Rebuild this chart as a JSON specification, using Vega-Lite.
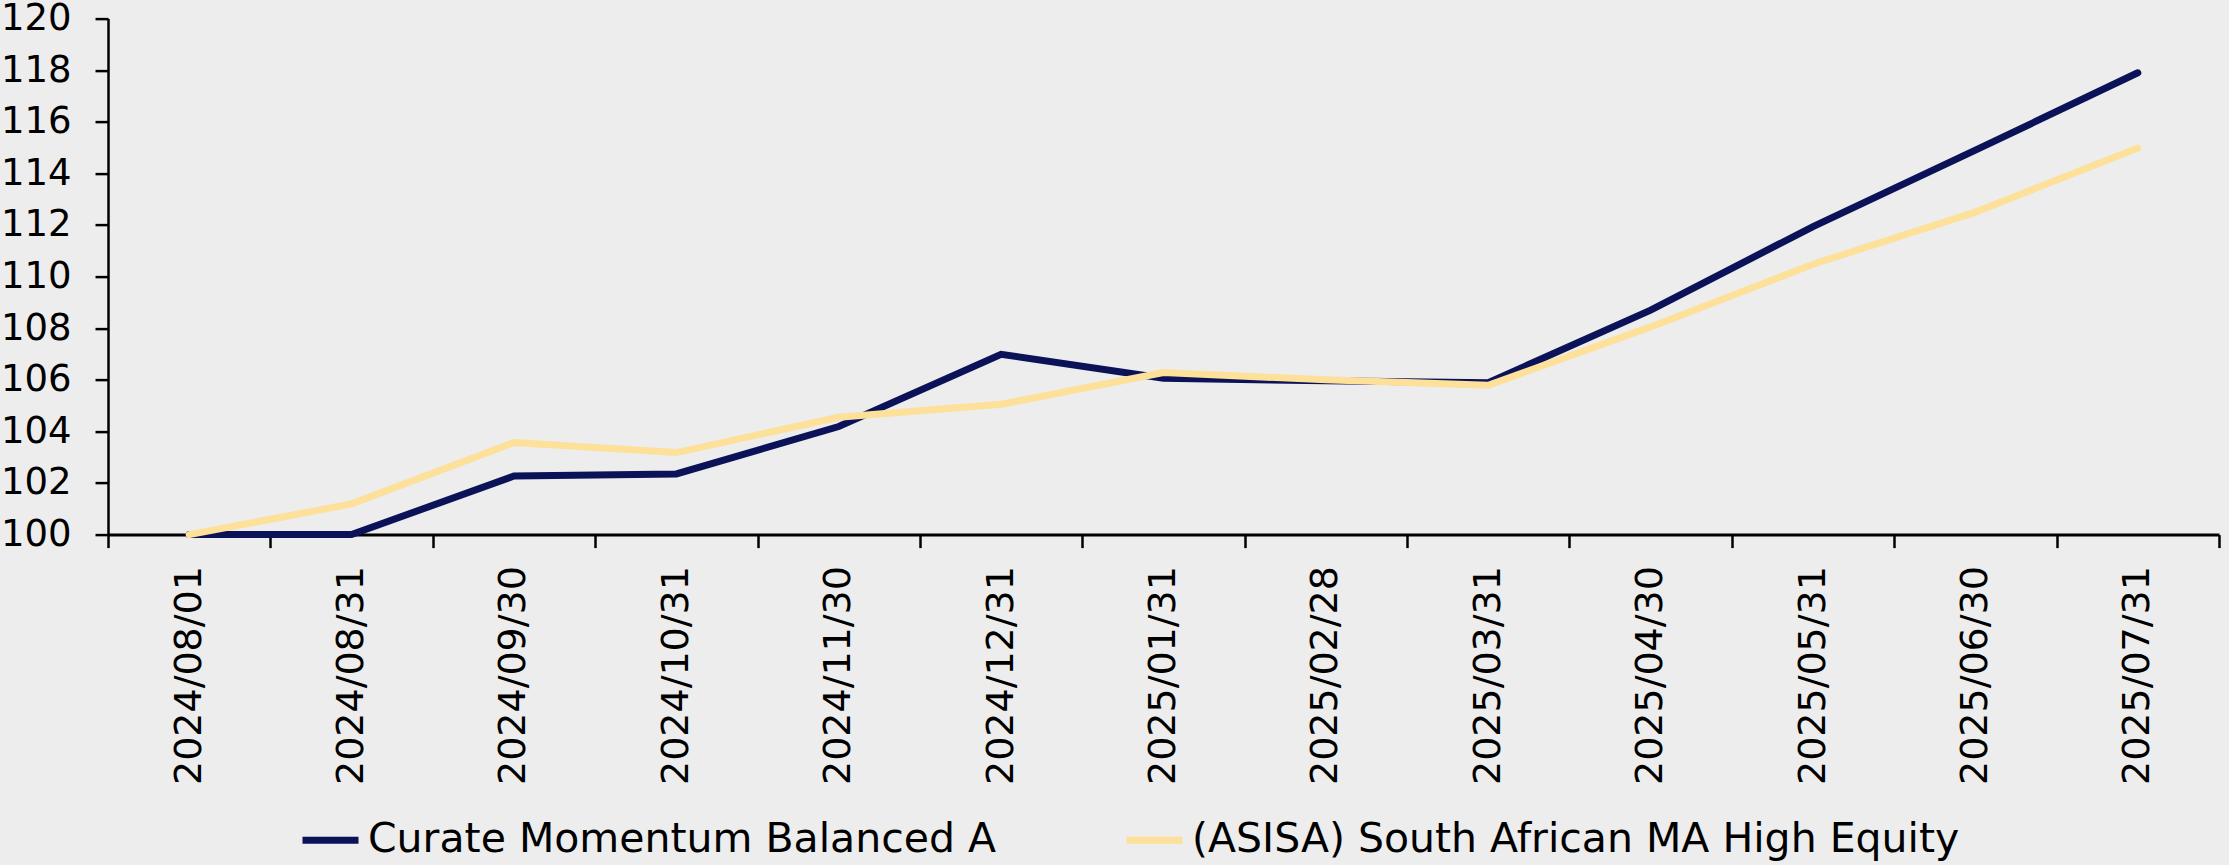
{
  "$schema": "https://vega.github.io/schema/vega-lite/v6.json",
  "width": 2111,
  "height": 516,
  "autosize": "none",
  "padding": {"left": 108, "top": 18.6, "right": 10, "bottom": 330},
  "background": "#ededed",
  "config": {
    "view": {"stroke": null},
    "font": "DejaVu Sans",
    "axis": {"labelFont": "DejaVu Sans", "labelColor": "#000000"},
    "legend": {"labelFont": "DejaVu Sans"}
  },
  "data": {
    "values": [
      {"date": "2024/08/01", "series": "Curate Momentum Balanced A", "value": 100.0},
      {"date": "2024/08/31", "series": "Curate Momentum Balanced A", "value": 100.0},
      {"date": "2024/09/30", "series": "Curate Momentum Balanced A", "value": 102.27},
      {"date": "2024/10/31", "series": "Curate Momentum Balanced A", "value": 102.35},
      {"date": "2024/11/30", "series": "Curate Momentum Balanced A", "value": 104.19},
      {"date": "2024/12/31", "series": "Curate Momentum Balanced A", "value": 106.99},
      {"date": "2025/01/31", "series": "Curate Momentum Balanced A", "value": 106.06},
      {"date": "2025/02/28", "series": "Curate Momentum Balanced A", "value": 105.96},
      {"date": "2025/03/31", "series": "Curate Momentum Balanced A", "value": 105.89},
      {"date": "2025/04/30", "series": "Curate Momentum Balanced A", "value": 108.7},
      {"date": "2025/05/31", "series": "Curate Momentum Balanced A", "value": 111.94},
      {"date": "2025/06/30", "series": "Curate Momentum Balanced A", "value": 114.9},
      {"date": "2025/07/31", "series": "Curate Momentum Balanced A", "value": 117.9},
      {"date": "2024/08/01", "series": "(ASISA) South African MA High Equity", "value": 100.0},
      {"date": "2024/08/31", "series": "(ASISA) South African MA High Equity", "value": 101.19},
      {"date": "2024/09/30", "series": "(ASISA) South African MA High Equity", "value": 103.57},
      {"date": "2024/10/31", "series": "(ASISA) South African MA High Equity", "value": 103.18},
      {"date": "2024/11/30", "series": "(ASISA) South African MA High Equity", "value": 104.55},
      {"date": "2024/12/31", "series": "(ASISA) South African MA High Equity", "value": 105.05},
      {"date": "2025/01/31", "series": "(ASISA) South African MA High Equity", "value": 106.28},
      {"date": "2025/02/28", "series": "(ASISA) South African MA High Equity", "value": 106.0},
      {"date": "2025/03/31", "series": "(ASISA) South African MA High Equity", "value": 105.79},
      {"date": "2025/04/30", "series": "(ASISA) South African MA High Equity", "value": 108.05},
      {"date": "2025/05/31", "series": "(ASISA) South African MA High Equity", "value": 110.48},
      {"date": "2025/06/30", "series": "(ASISA) South African MA High Equity", "value": 112.5},
      {"date": "2025/07/31", "series": "(ASISA) South African MA High Equity", "value": 114.98}
    ]
  },
  "mark": {"type": "line", "strokeWidth": 7, "strokeCap": "round", "strokeJoin": "miter"},
  "encoding": {
    "x": {
      "field": "date",
      "type": "ordinal",
      "sort": null,
      "title": null,
      "scale": {"paddingInner": 0, "paddingOuter": 0},
      "axis": {
        "tickBand": "extent",
        "labelAngle": -90,
        "labelFontSize": 38,
        "labelPadding": 18,
        "labelLimit": 500,
        "tickSize": 13,
        "tickWidth": 2.5,
        "tickColor": "#000000",
        "domainColor": "#000000",
        "domainWidth": 3,
        "grid": false
      }
    },
    "y": {
      "field": "value",
      "type": "quantitative",
      "title": null,
      "scale": {"domain": [100, 120], "nice": false, "zero": false},
      "axis": {
        "values": [100, 102, 104, 106, 108, 110, 112, 114, 116, 118, 120],
        "labelFontSize": 37,
        "labelPadding": 24,
        "tickSize": 13,
        "tickWidth": 2.5,
        "tickColor": "#000000",
        "domainColor": "#000000",
        "domainWidth": 2.5,
        "grid": false
      }
    },
    "color": {
      "field": "series",
      "type": "nominal",
      "sort": ["Curate Momentum Balanced A", "(ASISA) South African MA High Equity"],
      "scale": {
        "domain": ["Curate Momentum Balanced A", "(ASISA) South African MA High Equity"],
        "range": ["#0b1257", "#fde09a"]
      },
      "legend": {
        "title": null,
        "orient": "none",
        "direction": "horizontal",
        "legendX": 191,
        "legendY": 790,
        "padding": 0,
        "gridAlign": "each",
        "columnPadding": 115,
        "symbolType": "stroke",
        "symbolSize": 3136,
        "symbolStrokeWidth": 7,
        "labelFontSize": 41,
        "labelColor": "#000000",
        "labelOffset": 6,
        "labelLimit": 1200
      }
    }
  }
}
